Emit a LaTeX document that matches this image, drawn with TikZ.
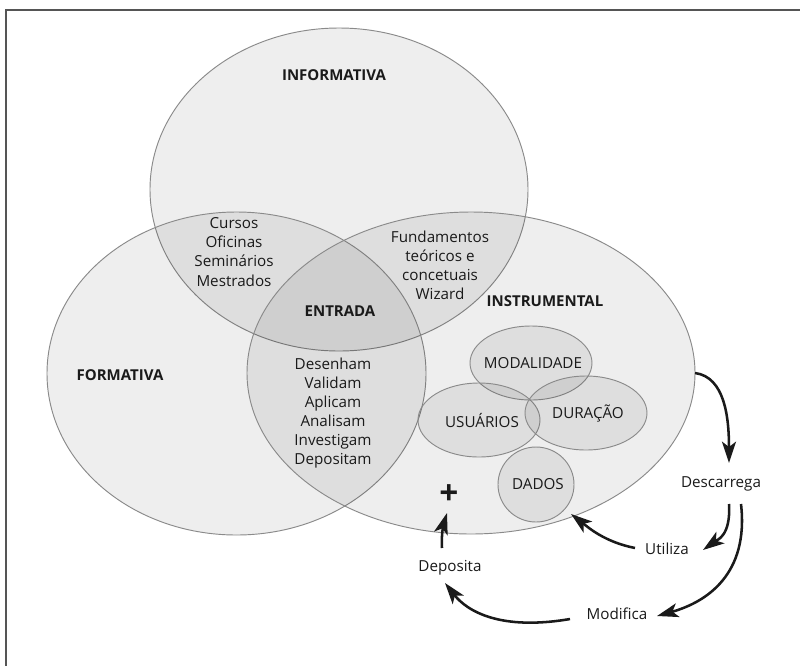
\documentclass[tikz,border=0pt]{standalone}
\usepackage{fontspec}
\setmainfont{Open Sans}
\usetikzlibrary{arrows.meta,shapes.geometric}
\definecolor{framec}{HTML}{555555}
\definecolor{edgec}{HTML}{8A8A8A}
\definecolor{txt}{HTML}{1A1A1A}
\begin{document}
\begin{tikzpicture}[x=0.75pt,y=-0.75pt,
  venn/.style={ellipse, draw=edgec, line width=0.7pt, fill=black, fill opacity=0.065, draw opacity=1, inner sep=0pt, outer sep=0pt},
  lbl/.style={text=txt, font=\fontsize{11.4}{14.3}\selectfont, inner sep=0pt, align=center},
  head/.style={text=txt, font=\fontsize{11.25}{14.3}\selectfont\bfseries, inner sep=0pt, align=center},
  flow/.style={line width=1.9pt, draw=txt, -{Stealth[length=16pt,width=10.5pt,inset=4pt]}},
  framel/.style={draw=framec, line width=1.5pt}
]
\useasboundingbox (0,0) rectangle (800,665);
\fill[white] (0,0) rectangle (800,665);
\draw[framel] (6,680) -- (6,10) -- (815,10);

% big sets
\node[venn, minimum width=283.5pt, minimum height=242.25pt] (inf) at (339,189.5) {};
\node[venn, minimum width=284.25pt, minimum height=242.25pt] (form) at (236.5,373.5) {};
\node[venn, minimum width=336pt, minimum height=241.5pt] (instr) at (471,373) {};

% small sets
\node[venn, minimum width=91.5pt, minimum height=55.5pt] (moda) at (531,363) {};
\node[venn, minimum width=91.5pt, minimum height=55.5pt] (usu) at (479,420) {};
\node[venn, minimum width=91.5pt, minimum height=55.5pt] (dur) at (586,413) {};
\node[venn, minimum width=57pt, minimum height=56.25pt] (dados) at (536,484.5) {};

% headings
\node[head] (tinf) at (334,75) {INFORMATIVA};
\node[head] (tform) at (120,375) {FORMATIVA};
\node[head] (tinstr) at (545,301) {INSTRUMENTAL};
\node[head] (tent) at (340,311) {ENTRADA};

% region texts
\node[lbl] (tcur) at (234,252) {Cursos\\Oficinas\\Seminários\\Mestrados};
\node[lbl] (tfun) at (440,265.5) {Fundamentos\\teóricos e\\concetuais\\Wizard};
\node[lbl] (tdes) at (333,413) {Desenham\\Validam\\Aplicam\\Analisam\\Investigam\\Depositam};

% small set labels
\node[lbl] (tmoda) at (533,363) {MODALIDADE};
\node[lbl] (tusu) at (482,420) {USUÁRIOS};
\node[lbl] (tdur) at (588,413) {DURAÇÃO};
\node[lbl] (tdados) at (538,484) {DADOS};

% flow labels
\node[text=txt, font=\fontsize{25}{25}\selectfont\bfseries, inner sep=0pt] (plus) at (449,495) {+};
\node[lbl] (desc) at (721,484) {Descarrega};
\node[lbl] (util) at (667,549) {Utiliza};
\node[lbl] (depo) at (450,568) {Deposita};
\node[lbl] (modi) at (617,614) {Modifica};

% connectors
\draw[flow] (instr.east) .. controls +(30,4) and +(0,-45) .. ([shift={(8,-21)}]desc.center);
\draw[flow] ([shift={(8,20)}]desc.center) .. controls +(2,32) and +(14,-10) .. ([shift={(36,1)}]util.center);
\draw[flow] ([shift={(20,20)}]desc.center) .. controls +(8,70) and +(50,-14) .. ([shift={(40,2)}]modi.center);
\draw[flow] ([shift={(-32,-1)}]util.center) .. controls +(-30,-6) and +(18,14) .. ([shift={(35,29.5)}]dados.center);
\draw[flow] ([shift={(-47,5)}]modi.center) .. controls +(-70,12) and +(22,28) .. ([shift={(-5,15)}]depo.center);
\draw[flow] ([shift={(-8,-20)}]depo.center) .. controls +(-1,-14) and +(-3,10) .. ([shift={(-2,18)}]plus.center);
\end{tikzpicture}
\end{document}
